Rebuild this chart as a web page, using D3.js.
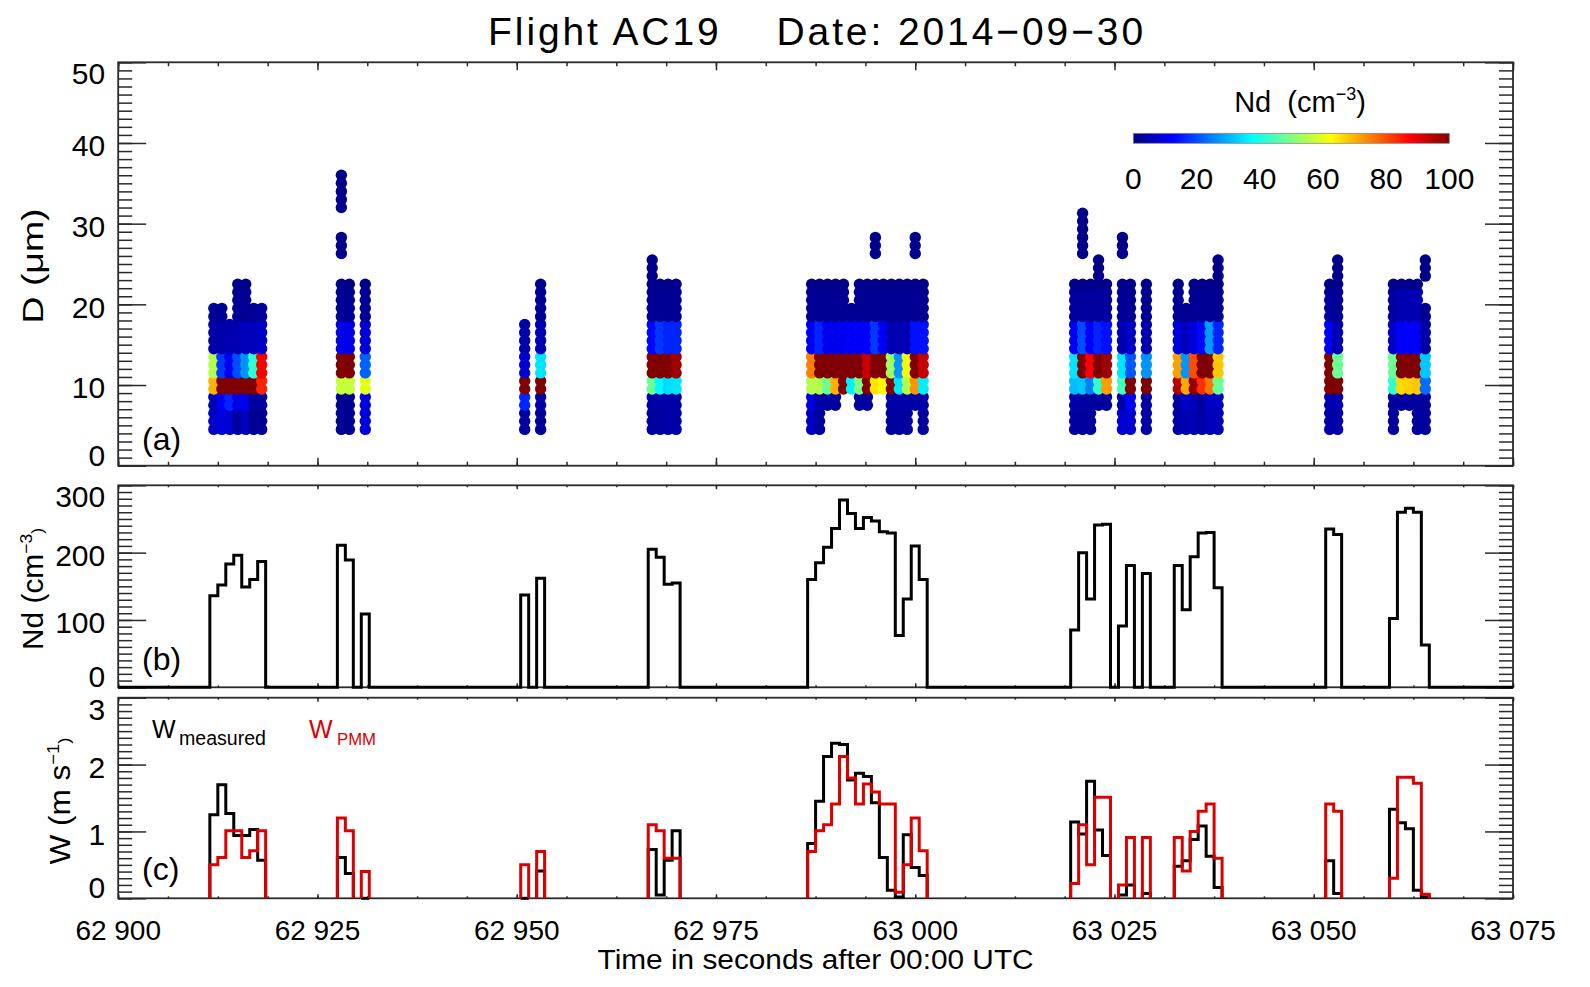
<!DOCTYPE html>
<html>
<head>
<meta charset="utf-8">
<script src="https://cdn.jsdelivr.net/npm/d3@7"></script>
<style>
body { margin: 0; background: #fff; }
text { font-family: "Liberation Sans", Arial, sans-serif; fill: #000; }
</style>
</head>
<body>
<div id="chart"></div>
<script>
// 1 Hz samples inside cloud (seconds after 00:00 UTC)
var times = [62912, 62913, 62914, 62915, 62916, 62917, 62918,
  62928, 62929, 62931,
  62951, 62953,
  62967, 62968, 62969, 62970,
  62987, 62988, 62989, 62990, 62991, 62992, 62993, 62994, 62995, 62996, 62997, 62998, 62999, 63000, 63001,
  63020, 63021, 63022, 63023, 63024,
  63026, 63027, 63029,
  63033, 63034, 63035, 63036, 63037, 63038,
  63052, 63053,
  63060, 63061, 63062, 63063, 63064];

// total droplet number concentration (cm-3)
var ndTotal = [136, 152, 183, 196, 149, 160, 187,
  211, 189, 109,
  137, 162,
  205, 193, 153, 155,
  160, 185, 208, 236, 278, 258, 236, 252, 247, 231, 229, 77, 131, 210, 160,
  85, 200, 131, 241, 242,
  91, 181, 169,
  181, 115, 194, 229, 230, 148,
  235, 227,
  102, 260, 266, 260, 63];

// vertical velocity (m s-1)
var wMeasured = [1.25, 1.70, 1.27, 0.94, 0.94, 1.03, 0.57,
  0.61, 0.37, 0,
  0, 0.41,
  0.73, 0.05, 0.57, 1.01,
  0.82, 1.45, 2.12, 2.32, 2.30, 1.77, 1.87, 1.82, 1.43, 0.61, 0.12, 0.02, 0.95, 0.46, 0.34,
  1.14, 0.96, 1.75, 1.02, 0.64,
  0.05, 0.20, 0.07,
  0.48, 0.56, 0.88, 1.08, 0.63, 0.16,
  0.56, 0.07,
  1.33, 1.13, 1.04, 0.12, 0.02];

var wPMM = [0.50, 0.61, 1.01, 1.01, 0.61, 0.71, 1.01,
  1.20, 1.01, 0.40,
  0.50, 0.70,
  1.10, 1.01, 0.60, 0.60,
  0.70, 1.01, 1.10, 1.41, 2.12, 1.80, 1.41, 1.71, 1.59, 1.41, 1.41, 0.09, 0.50, 1.20, 0.71,
  0.22, 1.10, 0.50, 1.51, 1.51,
  0.20, 0.91, 0.91,
  0.91, 0.41, 1.00, 1.30, 1.41, 0.60,
  1.41, 1.30,
  0.30, 1.81, 1.81, 1.72, 0.06];

// size distribution: smallest and largest diameter drawn per sample (um)
var colBottom = [4.5, 4.5, 4.5, 4.5, 4.5, 4.5, 4.5,
  4.5, 4.5, 4.5,
  4.5, 4.5,
  4.5, 4.5, 4.5, 4.5,
  4.5, 4.5, 7.5, 7.5, 9.5, 9.5, 7.5, 7.5, 9.5, 9.5, 4.5, 4.5, 4.5, 7.5, 4.5,
  4.5, 4.5, 4.5, 7.5, 7.5,
  4.5, 4.5, 4.5,
  4.5, 4.5, 4.5, 4.5, 4.5, 4.5,
  4.5, 4.5,
  4.5, 7.5, 7.5, 4.5, 4.5];

var colTop = [19.5, 19.5, 17.5, 22.5, 22.5, 19.5, 19.5,
  22.5, 22.5, 22.5,
  17.5, 22.5,
  25.5, 22.5, 22.5, 22.5,
  22.5, 22.5, 22.5, 22.5, 22.5, 19.5, 22.5, 22.5, 22.5, 22.5, 22.5, 22.5, 22.5, 22.5, 22.5,
  22.5, 22.5, 22.5, 25.5, 22.5,
  22.5, 22.5, 22.5,
  22.5, 19.5, 22.5, 22.5, 22.5, 25.5,
  22.5, 25.5,
  22.5, 22.5, 22.5, 22.5, 19.5];

// size bin edges (um) and Nd per bin (cm-3) for each sample
var binEdges = [4, 7, 9, 11, 14, 18, 22, 50];
var binNd = [
  [7, 5, 70, 55, 4, 2, 1], [9, 12, 100, 18, 4, 2, 1], [8, 16, 100, 11, 5, 2, 1], [3, 10, 100, 20, 5, 2, 1],
  [6, 11, 100, 27, 6, 2, 1], [2, 3, 100, 42, 6, 2, 1], [2, 3, 84, 88, 7, 3, 1],
  [2, 2, 57, 100, 10, 2, 1], [2, 2, 57, 100, 10, 2, 1], [9, 9, 60, 22, 9, 2, 1],
  [3, 16, 100, 8, 4, 2, 1], [2, 4, 100, 35, 5, 2, 1],
  [3, 4, 48, 100, 13, 2, 1], [3, 4, 37, 100, 18, 2, 1], [4, 4, 34, 100, 16, 2, 1], [4, 4, 35, 97, 16, 2, 1],
  [7, 10, 55, 75, 12, 2, 1], [3, 4, 55, 100, 16, 2, 1], [3, 3, 48, 100, 11, 2, 1], [3, 3, 70, 100, 11, 2, 1],
  [3, 3, 100, 100, 11, 2, 1], [3, 3, 36, 100, 12, 2, 1], [3, 3, 50, 100, 12, 2, 1], [3, 3, 100, 93, 12, 2, 1],
  [3, 3, 65, 100, 18, 2, 1], [3, 3, 63, 100, 12, 2, 1], [3, 4, 100, 53, 5, 2, 1], [3, 4, 35, 27, 5, 2, 1],
  [3, 4, 55, 61, 5, 2, 1], [3, 4, 73, 100, 14, 2, 1], [3, 4, 36, 93, 14, 2, 1],
  [3, 4, 31, 35, 11, 3, 1], [3, 4, 32, 100, 20, 3, 1], [3, 3, 25, 88, 12, 3, 1], [3, 3, 42, 100, 16, 3, 1],
  [3, 3, 72, 97, 14, 3, 1],
  [8, 4, 44, 35, 5, 2, 1], [8, 12, 100, 21, 7, 2, 1], [4, 4, 100, 27, 5, 2, 1],
  [4, 3, 95, 72, 9, 2, 1], [5, 7, 71, 27, 6, 2, 1], [5, 6, 98, 80, 9, 2, 1], [4, 3, 83, 100, 13, 2, 1],
  [6, 7, 76, 100, 28, 2, 1], [6, 7, 48, 68, 16, 2, 1],
  [4, 5, 100, 100, 12, 3, 1], [4, 5, 100, 48, 5, 2, 1],
  [3, 3, 42, 48, 7, 3, 1], [3, 3, 66, 100, 12, 5, 1], [3, 3, 67, 100, 12, 5, 1], [3, 3, 68, 100, 12, 5, 1],
  [3, 3, 23, 32, 4, 2, 1]
];

// isolated large drops above the main distribution
var extraTimes = [62928, 62928, 62995, 63000, 63021, 63026, 63064];
var extraBottom = [26.3, 32, 26.3, 26.3, 26.3, 26.3, 23.5];
var extraTop = [28.3, 36, 28.3, 28.3, 31.3, 28.3, 25.5];
var extraNd = [1, 1, 1, 1, 1, 1, 1];

// tick labels
var xTickLabels = [62900, 62925, 62950, 62975, 63000, 63025, 63050, 63075];
var dTicks = [0, 10, 20, 30, 40, 50];
var ndTicks = [0, 100, 200, 300];
var wTicks = [0, 1, 2, 3];
var cbTicks = [0, 20, 40, 60, 80, 100];

// layout
var svgWidth = 1590;
var svgHeight = 987;
var left = 118.2, right = 1513;
var panelA = { top: 62.3, bottom: 465.7 };
var panelB = { top: 485.3, bottom: 687.3 };
var panelC = { top: 697.7, bottom: 898.3 };

var svg = d3.select("#chart").append("svg")
  .attr("width", svgWidth)
  .attr("height", svgHeight)
  .style("display", "block");

var x = d3.scaleLinear().domain([62900, 63075]).range([left, right]);
var yD = d3.scaleLinear().domain([0, 50]).range([panelA.bottom, panelA.top]);
var yNd = d3.scaleLinear().domain([0, 300]).range([panelB.bottom, panelB.top]);
var yW = d3.scaleLinear().domain([0, 3]).range([panelC.bottom, panelC.top]);

// jet colour table
var jet = d3.scaleLinear()
  .domain([0, 12.5, 37.5, 62.5, 87.5, 100])
  .range(["#000080", "#0000ff", "#00ffff", "#ffff00", "#ff0000", "#800000"])
  .clamp(true);

var axisColor = "#2a2a2a";

// frame with inward ticks on all four sides
function drawFrame(p, yScale, yMajor, yMinorStep, xLen) {
  var g = svg.append("g").attr("color", axisColor);
  var yMin = d3.range(yScale.domain()[0], yScale.domain()[1] + yMinorStep / 2, yMinorStep);
  var xMinor = d3.range(62900, 63075.01, 6.25);

  g.append("g").attr("transform", `translate(${left},0)`)
    .call(d3.axisLeft(yScale).tickValues(yMin).tickSize(-14).tickFormat(""));
  g.append("g").attr("transform", `translate(${left},0)`)
    .call(d3.axisLeft(yScale).tickValues(yMajor).tickSize(-28).tickFormat(""));
  g.append("g").attr("transform", `translate(${right},0)`)
    .call(d3.axisRight(yScale).tickValues(yMin).tickSize(-14).tickFormat(""));
  g.append("g").attr("transform", `translate(${right},0)`)
    .call(d3.axisRight(yScale).tickValues(yMajor).tickSize(-28).tickFormat(""));

  g.append("g").attr("transform", `translate(0,${p.bottom})`)
    .call(d3.axisBottom(x).tickValues(xMinor).tickSize(-xLen / 2).tickFormat(""));
  g.append("g").attr("transform", `translate(0,${p.bottom})`)
    .call(d3.axisBottom(x).tickValues(xTickLabels).tickSize(-xLen).tickFormat(""));
  g.append("g").attr("transform", `translate(0,${p.top})`)
    .call(d3.axisTop(x).tickValues(xMinor).tickSize(-xLen / 2).tickFormat(""));
  g.append("g").attr("transform", `translate(0,${p.top})`)
    .call(d3.axisTop(x).tickValues(xTickLabels).tickSize(-xLen).tickFormat(""));

  g.selectAll(".domain").remove();
  g.selectAll("line").attr("stroke-width", 1.5);

  g.append("rect")
    .attr("x", left).attr("y", p.top)
    .attr("width", right - left).attr("height", p.bottom - p.top)
    .attr("fill", "none")
    .attr("stroke", axisColor)
    .attr("stroke-width", 1.8);

  // y tick labels, kept inside the frame at the ends
  svg.append("g").selectAll("text")
    .data(yMajor)
    .enter()
    .append("text")
    .attr("x", left - 13)
    .attr("y", d => Math.max(p.top + 11, Math.min(p.bottom - 11, yScale(d) + 2.5)))
    .attr("dy", "0.36em")
    .attr("text-anchor", "end")
    .style("font-size", "30px")
    .text(d => d);
}

drawFrame(panelA, yD, dTicks, 1, 8);
drawFrame(panelB, yNd, ndTicks, 10, 4);
drawFrame(panelC, yW, wTicks, 0.1, 4);

// panel (a): one circle per 1 um of diameter, coloured by the bin Nd
var dots = [];
times.forEach(function(t, i) {
  d3.range(colBottom[i], colTop[i] + 0.01, 1).forEach(function(d) {
    var b = d3.bisectRight(binEdges, d) - 1;
    dots.push({ t: t, d: d, nd: binNd[i][b] });
  });
});
extraTimes.forEach(function(t, j) {
  d3.range(extraBottom[j], extraTop[j] + 0.01, 1).forEach(function(d) {
    dots.push({ t: t, d: d, nd: extraNd[j] });
  });
});

svg.append("g").selectAll("circle")
  .data(dots)
  .enter()
  .append("circle")
  .attr("cx", d => x(d.t))
  .attr("cy", d => yD(d.d))
  .attr("r", 5.7)
  .attr("fill", d => jet(d.nd));

// step outline (histogram style) for every run of consecutive seconds
function runs() {
  var out = [];
  var cur = [];
  times.forEach(function(t, i) {
    if (cur.length && t - times[cur[cur.length - 1]] > 1) {
      out.push(cur);
      cur = [];
    }
    cur.push(i);
  });
  out.push(cur);
  return out;
}

function stepPoints(run, values) {
  var pts = [[times[run[0]] - 0.5, 0]];
  run.forEach(function(i) {
    pts.push([times[i] - 0.5, values[i]]);
    pts.push([times[i] + 0.5, values[i]]);
  });
  pts.push([times[run[run.length - 1]] + 0.5, 0]);
  return pts;
}

var allRuns = runs();

// panel (b): Nd line over the whole time range
var ndPts = [[62900, 0]];
allRuns.forEach(function(r) { ndPts = ndPts.concat(stepPoints(r, ndTotal)); });
ndPts.push([63075, 0]);

var ndLine = d3.line().x(d => x(d[0])).y(d => yNd(d[1]));
svg.append("path")
  .attr("d", ndLine(ndPts))
  .attr("fill", "none")
  .attr("stroke", "#000")
  .attr("stroke-width", 3);

// panel (c): measured and PMM vertical velocity
var wLine = d3.line().x(d => x(d[0])).y(d => yW(d[1]));
[[wMeasured, "#000"], [wPMM, "#dd0000"]].forEach(function(s) {
  allRuns.forEach(function(r) {
    svg.append("path")
      .attr("d", wLine(stepPoints(r, s[0])))
      .attr("fill", "none")
      .attr("stroke", s[1])
      .attr("stroke-width", 3);
  });
});

// x tick labels
svg.append("g").selectAll("text")
  .data(xTickLabels)
  .enter()
  .append("text")
  .attr("x", d => x(d))
  .attr("y", 940)
  .attr("text-anchor", "middle")
  .style("font-size", "28px")
  .text(d => String(d).slice(0, 2) + " " + String(d).slice(2));

// titles
svg.append("text")
  .attr("x", (left + right) / 2)
  .attr("y", 45)
  .attr("text-anchor", "middle")
  .attr("textLength", 655)
  .attr("lengthAdjust", "spacing")
  .style("font-size", "39px")
  .style("white-space", "pre")
  .text("Flight AC19    Date: 2014\u221209\u221230");

svg.append("text")
  .attr("x", (left + right) / 2)
  .attr("y", 969)
  .attr("text-anchor", "middle")
  .attr("textLength", 436)
  .attr("lengthAdjust", "spacingAndGlyphs")
  .style("font-size", "27px")
  .text("Time in seconds after 00:00 UTC");

function yTitle(cx, cy, len, parts) {
  var t = svg.append("text")
    .attr("transform", `translate(${cx},${cy}) rotate(-90)`)
    .attr("text-anchor", "middle")
    .attr("textLength", len)
    .attr("lengthAdjust", "spacingAndGlyphs")
    .style("font-size", "29px");
  parts.forEach(function(p) {
    var s = t.append("tspan").text(p[0]);
    if (p[1]) s.attr("dy", p[1]).style("font-size", "17px");
  });
}

yTitle(43, 266, 115, [["D (\u03bcm)"]]);
yTitle(43, 589, 122, [["Nd (cm"], ["\u22123", "-11"], [")", "11"]]);
yTitle(70, 801, 127, [["W (m s"], ["\u22121", "-11"], [")", "11"]]);

// panel letters
[["(a)", 450], ["(b)", 670], ["(c)", 880]].forEach(function(p) {
  svg.append("text")
    .attr("x", 142)
    .attr("y", p[1])
    .style("font-size", "32px")
    .text(p[0]);
});

// legend for panel (c)
var lg = svg.append("g");
lg.append("text").attr("x", 152).attr("y", 738).style("font-size", "25px").text("W");
lg.append("text").attr("x", 179).attr("y", 745)
  .attr("textLength", 87).attr("lengthAdjust", "spacingAndGlyphs")
  .style("font-size", "20px").text("measured");
lg.append("text").attr("x", 309).attr("y", 738).style("font-size", "25px")
  .style("fill", "#dd0000").text("W");
lg.append("text").attr("x", 337).attr("y", 745)
  .attr("textLength", 39).attr("lengthAdjust", "spacingAndGlyphs")
  .style("font-size", "17px")
  .style("fill", "#dd0000").text("PMM");

// colour bar
var cbX = d3.scaleLinear().domain([0, 100]).range([1133.3, 1449.3]);
var grad = svg.append("defs").append("linearGradient")
  .attr("id", "jetGrad")
  .attr("x1", "0%").attr("x2", "100%");
grad.selectAll("stop")
  .data(d3.range(0, 100.1, 2.5))
  .enter()
  .append("stop")
  .attr("offset", d => d + "%")
  .attr("stop-color", d => jet(d));

svg.append("rect")
  .attr("x", cbX(0)).attr("y", 133.3)
  .attr("width", cbX(100) - cbX(0)).attr("height", 10)
  .attr("fill", "url(#jetGrad)")
  .attr("stroke", "#888")
  .attr("stroke-width", 0.8);

svg.append("g").selectAll("text")
  .data(cbTicks)
  .enter()
  .append("text")
  .attr("x", d => cbX(d))
  .attr("y", 189)
  .attr("text-anchor", "middle")
  .style("font-size", "30px")
  .text(d => d);

var cbTitle = svg.append("text")
  .attr("x", 1300)
  .attr("y", 112)
  .attr("text-anchor", "middle")
  .style("font-size", "29px")
  .style("white-space", "pre");
cbTitle.append("tspan").text("Nd  (cm");
cbTitle.append("tspan").attr("dy", -12).style("font-size", "18px").text("\u22123");
cbTitle.append("tspan").attr("dy", 12).text(")");
</script>
</body>
</html>
